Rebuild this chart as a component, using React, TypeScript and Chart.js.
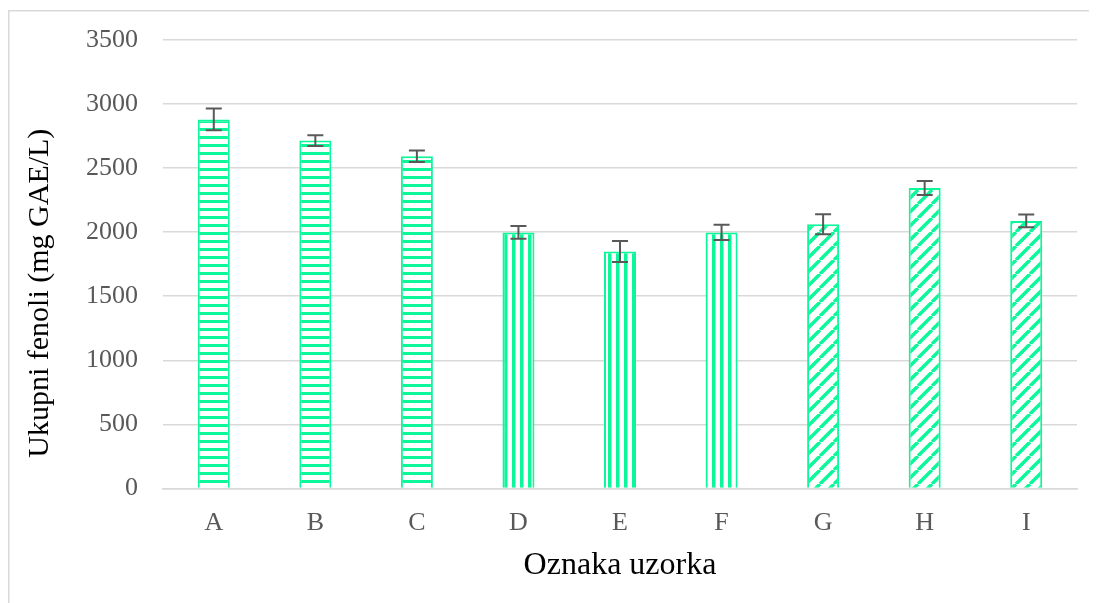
import React, { useEffect, useRef } from "react";
import { Chart, registerables } from "chart.js";

Chart.register(...registerables);

const categories = ["A", "B", "C", "D", "E", "F", "G", "H", "I"];
const values = [2880, 2715, 2592, 1998, 1850, 1998, 2062, 2345, 2088];
const errors = [85, 42, 45, 50, 82, 60, 78, 55, 50];
const patterns = ["h", "h", "h", "v", "v", "v", "d", "d", "d"];
const yTicks = [0, 500, 1000, 1500, 2000, 2500, 3000, 3500];

const GREEN = "#0cf79a";
const Y_TITLE_SHIFT = 29;

function makePattern(kind: string): CanvasPattern | string {
  const c = document.createElement("canvas");
  const ctx = c.getContext("2d");
  if (!ctx) return GREEN;
  if (kind === "h") {
    c.width = 8; c.height = 8;
    ctx.fillStyle = "#fff"; ctx.fillRect(0, 0, 8, 8);
    ctx.fillStyle = GREEN; ctx.fillRect(0, 0, 8, 3);
  } else if (kind === "v") {
    c.width = 8; c.height = 8;
    ctx.fillStyle = "#fff"; ctx.fillRect(0, 0, 8, 8);
    ctx.fillStyle = GREEN; ctx.fillRect(0, 0, 3.5, 8);
  } else {
    const s = 14;
    c.width = s; c.height = s;
    ctx.fillStyle = "#fff"; ctx.fillRect(0, 0, s, s);
    ctx.strokeStyle = GREEN; ctx.lineWidth = 3.5;
    ctx.beginPath();
    for (let k = -1; k <= 1; k++) {
      ctx.moveTo(k * s, s);
      ctx.lineTo(k * s + s, 0);
    }
    ctx.stroke();
  }
  return ctx.createPattern(c, "repeat") || GREEN;
}

const errorBarPlugin = {
  id: "errorBars",
  afterDatasetsDraw(chart: any) {
    const { ctx } = chart;
    const meta = chart.getDatasetMeta(0);
    const y = chart.scales.y;
    ctx.save();
    ctx.strokeStyle = "#595959";
    ctx.lineWidth = 2;
    meta.data.forEach((bar: any, i: number) => {
      const x = bar.x;
      const yt = y.getPixelForValue(values[i] + errors[i]);
      const yb = y.getPixelForValue(values[i] - errors[i]);
      ctx.beginPath();
      ctx.moveTo(x, yt); ctx.lineTo(x, yb);
      ctx.moveTo(x - 8, yt); ctx.lineTo(x + 8, yt);
      ctx.moveTo(x - 8, yb); ctx.lineTo(x + 8, yb);
      ctx.stroke();
    });
    ctx.restore();
  },
};

const framePlugin = {
  id: "frame",
  beforeDraw(chart: any) {
    const { ctx, width, height } = chart;
    ctx.save();
    ctx.strokeStyle = "#d9d9d9";
    ctx.lineWidth = 1.5;
    ctx.beginPath();
    ctx.moveTo(0.75, height);
    ctx.lineTo(0.75, 2.75);
    ctx.lineTo(width, 2.75);
    ctx.stroke();
    ctx.restore();
  },
};

export default function App() {
  const ref = useRef<HTMLCanvasElement>(null);
  useEffect(() => {
    if (!ref.current) return;
    const chart = new Chart(ref.current, {
      type: "bar",
      data: {
        labels: categories,
        datasets: [
          {
            data: values,
            backgroundColor: patterns.map((p) => makePattern(p)) as any,
            borderColor: GREEN,
            borderWidth: 2,
            barPercentage: 0.315,
            categoryPercentage: 1,
          },
        ],
      },
      options: {
        responsive: false,
        animation: false,
        layout: { padding: { left: 14, right: 20, top: 32, bottom: 18 } },
        plugins: { legend: { display: false }, tooltip: { enabled: false } },
        scales: {
          x: {
            grid: { display: false },
            border: { color: "#d9d9d9", width: 1.5 },
            ticks: {
              color: "#595959",
              padding: 11,
              font: { family: "Liberation Serif", size: 26 },
            },
            title: {
              display: true,
              text: "Oznaka uzorka",
              color: "#000",
              padding: { top: -3, bottom: 0 },
              font: { family: "Liberation Serif", size: 32 },
            },
          },
          y: {
            min: 0,
            max: 3500,
            afterBuildTicks: (s: any) => {
              s.ticks = yTicks.map((v) => ({ value: v }));
            },
            afterFit: (s: any) => {
              s.width = 141;
              s.paddingTop = 0;
              if (!s.__shifted) {
                s.__shifted = true;
                const orig = s.drawTitle.bind(s);
                s.drawTitle = () => {
                  s.ctx.save();
                  s.ctx.translate(0, Y_TITLE_SHIFT);
                  orig();
                  s.ctx.restore();
                };
              }
            },
            grid: { color: "#d9d9d9", lineWidth: 1.5, drawTicks: false },
            border: { display: false },
            ticks: {
              color: "#595959",
              padding: 25,
              font: { family: "Liberation Serif", size: 26 },
              callback: (v: any) => String(v),
            },
            title: {
              display: true,
              text: "Ukupni fenoli (mg GAE/L)",
              color: "#000",
              padding: { top: 0, bottom: 0 },
              font: { family: "Liberation Serif", size: 30 },
            },
          },
        },
      },
      plugins: [errorBarPlugin, framePlugin],
    });
    return () => chart.destroy();
  }, []);
  return (
    <div style={{ width: 1089, height: 595 }}>
      <canvas ref={ref} width={1089} height={595} style={{ display: "block" }} />
    </div>
  );
}
